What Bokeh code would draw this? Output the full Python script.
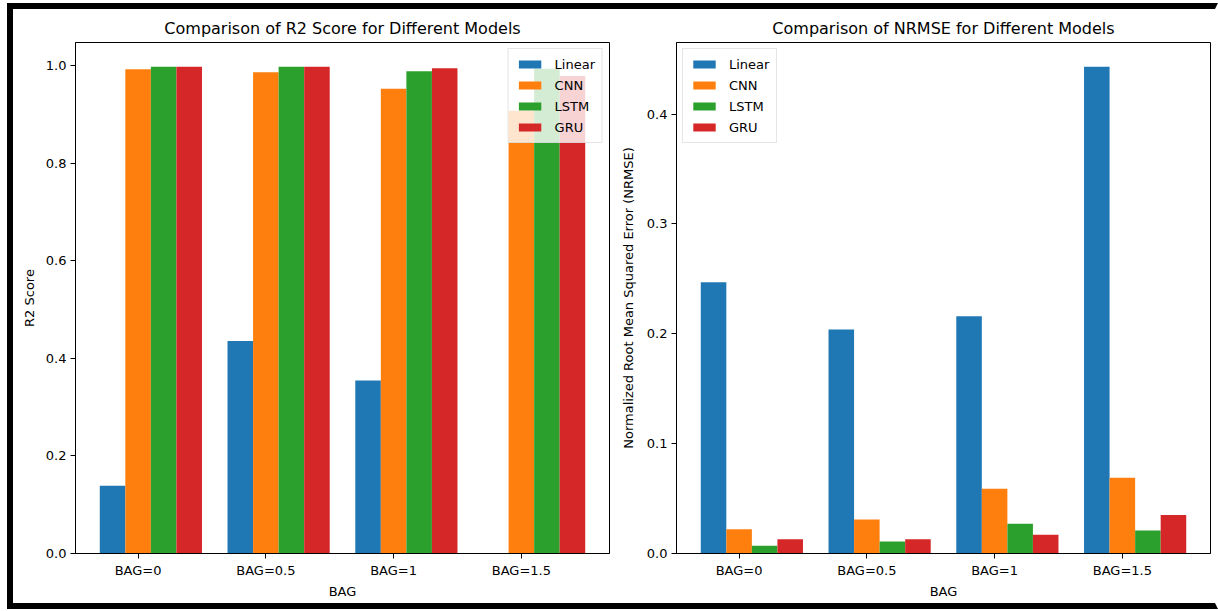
from bokeh.plotting import figure
from bokeh.layouts import row
from bokeh.models import Range1d, FixedTicker, PrintfTickFormatter
from bokeh.embed import file_html
from bokeh.resources import INLINE

# ---- data ----
bag_labels = ["BAG=0", "BAG=0.5", "BAG=1", "BAG=1.5"]
models = ["Linear", "CNN", "LSTM", "GRU"]
colors = ["#1f77b4", "#ff7f0e", "#2ca02c", "#d62728"]

r2_linear = [0.139, 0.436, 0.355, 0.0]
r2_cnn = [0.993, 0.987, 0.953, 0.908]
r2_lstm = [0.998, 0.998, 0.989, 0.994]
r2_gru = [0.998, 0.998, 0.995, 0.979]

nrmse_linear = [0.247, 0.204, 0.216, 0.443]
nrmse_cnn = [0.022, 0.031, 0.059, 0.069]
nrmse_lstm = [0.007, 0.011, 0.027, 0.021]
nrmse_gru = [0.013, 0.013, 0.017, 0.035]

r2_ticks = [0.0, 0.2, 0.4, 0.6, 0.8, 1.0]
nrmse_ticks = [0.0, 0.1, 0.2, 0.3, 0.4]

FONT = "DejaVu Sans"
BAR_W = 0.2
OFFSETS = [-0.2, 0.0, 0.2, 0.4]


def make_fig(title, ylabel, series, yticks, legend_loc, label_standoff):
    n = len(bag_labels)
    xs = list(range(n))
    all_vals = [v for s in series for v in s]
    xmin = min(xs) + OFFSETS[0] - BAR_W / 2
    xmax = max(xs) + OFFSETS[-1] + BAR_W / 2
    xpad = (xmax - xmin) * 0.05
    ymax = max(all_vals) * 1.05
    p = figure(width=601, height=594, output_backend="svg", toolbar_location=None,
               x_range=Range1d(xmin - xpad, xmax + xpad), y_range=Range1d(0, ymax),
               min_border_left=62, min_border_right=5, min_border_top=33,
               min_border_bottom=50, title=title)
    for s, name, c, off in zip(series, models, colors, OFFSETS):
        p.vbar(x=[x + off for x in xs], top=s, width=BAR_W, bottom=0,
               fill_color=c, line_color=None, legend_label=name)
    p.title.text_font = FONT
    p.title.text_font_size = "16px"
    p.title.text_font_style = "normal"
    p.title.align = "center"
    p.title.text_color = "#000000"
    p.title.standoff = 10
    p.outline_line_color = "#000000"
    p.outline_line_width = 1
    p.xgrid.visible = False
    p.ygrid.visible = False
    for ax in (p.xaxis[0], p.yaxis[0]):
        ax.axis_line_color = "#000000"
        ax.major_tick_line_color = "#000000"
        ax.major_tick_out = 5
        ax.major_tick_in = 0
        ax.minor_tick_line_color = None
        ax.major_label_text_font = FONT
        ax.major_label_text_font_size = "13px"
        ax.major_label_text_color = "#000000"
        ax.axis_label_text_font = FONT
        ax.axis_label_text_font_size = "13px"
        ax.axis_label_text_font_style = "normal"
        ax.axis_label_text_color = "#000000"
    p.xaxis[0].ticker = FixedTicker(ticks=xs)
    p.xaxis[0].major_label_overrides = {i: l for i, l in enumerate(bag_labels)}
    p.xaxis[0].axis_label = "BAG"
    p.xaxis[0].major_label_standoff = 4
    p.xaxis[0].axis_label_standoff = 3
    p.yaxis[0].ticker = FixedTicker(ticks=yticks)
    p.yaxis[0].formatter = PrintfTickFormatter(format="%.1f")
    p.yaxis[0].axis_label = ylabel
    p.yaxis[0].major_label_standoff = 4
    p.yaxis[0].axis_label_standoff = label_standoff
    lg = p.legend[0]
    lg.location = legend_loc
    lg.margin = 6
    lg.padding = 7
    lg.spacing = 5
    lg.glyph_width = 28
    lg.glyph_height = 10
    lg.label_height = 16
    lg.label_standoff = 11
    lg.label_text_font = FONT
    lg.label_text_font_size = "13px"
    lg.label_text_color = "#000000"
    lg.background_fill_alpha = 0.8
    lg.border_line_color = "#cccccc"
    lg.border_line_width = 1
    return p


p1 = make_fig("Comparison of R2 Score for Different Models", "R2 Score",
              [r2_linear, r2_cnn, r2_lstm, r2_gru], r2_ticks, "top_right", 6)
p2 = make_fig("Comparison of NRMSE for Different Models",
              "Normalized Root Mean Squared Error (NRMSE)",
              [nrmse_linear, nrmse_cnn, nrmse_lstm, nrmse_gru], nrmse_ticks, "top_left", 8)

layout = row(p1, p2, styles={"border": "6px solid #000000", "border-right": "3px solid #ffffff",
                              "margin": "3px 0px 0px 7px", "background-color": "#ffffff"})

open("out.html", "w").write(file_html(layout, INLINE))
